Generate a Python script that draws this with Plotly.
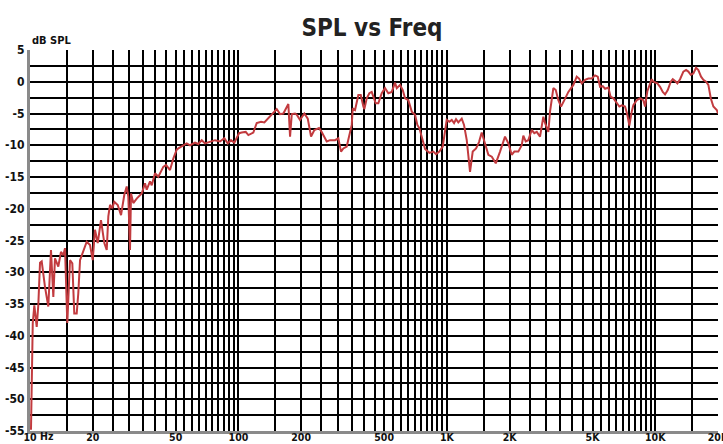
import plotly.graph_objects as go

# Frequency response data
freq_hz = [
    10.11, 10.19, 10.26, 10.31, 10.49, 10.77, 10.96, 11.17, 11.38, 11.80,
    12.24, 12.61, 12.94, 13.18, 13.67, 14.08, 14.45, 14.72, 15.10, 15.56,
    15.96, 16.31, 16.75, 17.05, 17.38, 18.02, 18.71, 19.41, 20.0, 20.50,
    21.13, 21.91, 22.73, 23.34, 23.76, 24.21, 24.83, 25.38, 26.36, 27.34,
    28.35, 29.11, 29.63, 30.19, 30.53, 31.31, 32.51, 34.36, 35.63, 36.31,
    37.66, 38.37, 39.79, 41.27, 43.61, 44.94, 46.97, 48.71, 50.58, 51.48,
    53.45, 56.49, 58.59, 61.92, 64.22, 66.68, 69.16, 73.09, 77.24, 81.62,
    85.58, 88.86, 92.15, 95.57, 98.14, 100.7, 103.7, 108.4, 111.6, 117.9,
    122.4, 128.4, 133.2, 138.3, 145.4, 152.7, 158.4, 164.3, 173.6, 176.9,
    180.3, 186.9, 190.5, 197.5, 207.2, 215.1, 223.1, 231.4, 243.7, 251.0,
    265.3, 275.2, 290.8, 301.6, 310.7, 318.7, 330.9, 343.2, 349.7, 353.6,
    362.7, 376.2, 386.3, 397.6, 402.0, 412.8, 424.8, 436.1, 443.9, 455.8,
    469.1, 487.1, 505.2, 524.0, 544.1, 564.3, 575.0, 596.4, 614.4, 630.3,
    653.7, 678.7, 703.9, 722.0, 738.2, 758.0, 786.2, 824.4, 861.6, 887.7,
    920.7, 955.7, 980.3, 998.9, 1028, 1056, 1083, 1107, 1135, 1179,
    1209, 1246, 1292, 1331, 1381, 1427, 1470, 1525, 1582, 1643,
    1717, 1800, 1902, 1973, 2048, 2108, 2203, 2287, 2328, 2390,
    2460, 2554, 2629, 2700, 2800, 2904, 2959, 3069, 3127, 3244,
    3331, 3428, 3532, 3663, 3829, 4046, 4200, 4308, 4439, 4604,
    4775, 4958, 5142, 5298, 5434, 5599, 5743, 5956, 6102, 6294,
    6535, 6725, 6906, 7162, 7346, 7510, 7712, 7849, 8149, 8452,
    8766, 8932, 9162, 9441, 9620, 9792, 10235, 10545, 10864, 11143,
    11481, 11868, 12134, 12447, 12767, 13152, 13640, 14053, 14416, 14803,
    15234, 15695, 16099, 16586, 17014, 17530, 17981, 18464, 19002, 19730,
    20000,
]
spl_db = [
    -54.8, -49.1, -43.5, -38.0, -35.2, -38.6, -35.2, -28.5, -28.3, -32.3,
    -35.4, -26.5, -33.9, -27.8, -29.1, -26.8, -27.3, -26.2, -38.0, -28.1,
    -28.6, -36.5, -36.5, -33.3, -28.1, -26.8, -25.2, -25.7, -28.1, -23.3,
    -25.4, -21.8, -25.4, -26.5, -21.2, -19.4, -19.9, -18.9, -19.4, -21.0,
    -17.8, -16.5, -18.1, -26.5, -17.6, -19.1, -18.4, -17.6, -16.0, -17.0,
    -15.7, -16.3, -14.4, -14.95, -13.4, -13.1, -13.9, -12.1, -10.7, -10.5,
    -10.2, -9.7, -10.0, -9.6, -9.8, -9.2, -9.7, -9.4, -9.2, -9.4,
    -8.9, -9.7, -9.2, -9.6, -8.9, -8.1, -8.0, -7.9, -8.4, -8.0,
    -6.5, -6.3, -6.4, -5.8, -5.0, -4.3, -5.1, -5.0, -3.5, -8.65,
    -5.1, -5.0, -5.2, -6.0, -5.0, -5.8, -8.65, -7.6, -7.3, -7.9,
    -9.4, -9.2, -9.2, -8.9, -11.0, -10.5, -10.2, -8.1, -6.8, -4.2,
    -4.45, -2.1, -2.1, -3.9, -4.3, -2.6, -1.8, -1.6, -2.35, -3.4,
    -3.4, -1.8, -1.0, -1.8, -1.6, -0.15, -1.0, -0.5, -1.3, -2.6,
    -2.9, -4.7, -5.2, -6.8, -7.3, -8.9, -10.6, -11.2, -11.0, -11.4,
    -11.0, -10.2, -7.9, -6.0, -6.3, -6.0, -6.5, -5.9, -6.4, -5.8,
    -6.8, -9.2, -14.2, -11.0, -10.5, -9.5, -8.0, -9.7, -11.5, -11.8,
    -12.85, -11.0, -8.65, -9.7, -11.5, -11.0, -11.0, -10.0, -8.5, -9.4,
    -9.2, -7.6, -8.1, -7.9, -8.65, -5.5, -6.5, -7.9, -4.7, -1.0,
    -1.3, -2.9, -3.9, -2.9, -1.6, -0.5, 0.8, 0.5, -0.25, 0.3,
    0.5, 0.5, 1.0, 0.8, -0.8, -0.7, -1.1, -0.9, -2.35, -2.6,
    -3.4, -3.9, -3.7, -3.9, -5.2, -6.9, -4.7, -3.7, -2.9, -2.6,
    -2.9, -3.9, -1.5, -0.5, 0.4, 0.0, -0.25, -0.8, -1.6, -2.0,
    -1.3, 0.0, 0.4, 0.1, -0.25, 0.4, 1.6, 1.85, 1.6, 1.1,
    1.3, 2.2, 1.85, 0.8, 0.3, 0.0, -0.5, -2.6, -3.9, -4.45,
    -5.0,
]

# Axis ticks / labels
x_major_labels = {10: "10", 20: "20", 50: "50", 100: "100", 200: "200",
                  500: "500", 1000: "1K", 2000: "2K", 5000: "5K",
                  10000: "10K", 20000: "20K"}
x_grid = [h * 10 ** (e - 1) for e in range(1, 4) for h in range(10, 100, 5)] + [10000, 15000, 20000]
x_text = [x_major_labels.get(v, "") for v in x_grid]

y_grid = [-55 + 2.5 * i for i in range(25)]
y_text = [("%g" % v) if v % 5 == 0 else "" for v in y_grid]

FONT = "Liberation Sans Narrow, DejaVu Sans Condensed, Arial Narrow, sans-serif"

fig = go.Figure()
fig.add_trace(go.Scatter(x=freq_hz, y=spl_db, mode="lines",
                         line=dict(color="#c23b3f", width=2),
                         hoverinfo="x+y", showlegend=False))

fig.update_layout(
    width=723, height=444,
    margin=dict(l=30, r=5, t=50, b=13),
    paper_bgcolor="white", plot_bgcolor="white",
    title=dict(text="SPL vs Freq", x=0.5145, xref="container", xanchor="center",
               y=1 - 28 / 444, yref="container", yanchor="middle",
               font=dict(family=FONT, size=24, color="#222222", weight="bold")),
    font=dict(family=FONT, size=12, color="#111111", weight="bold"),
)
fig.update_xaxes(type="log", range=[1, 4.30103], tickmode="array",
                 tickvals=x_grid, ticktext=x_text, showgrid=True,
                 gridcolor="#000000", gridwidth=1.6, ticks="",
                 showline=True, linecolor="#8a8a8a", linewidth=3,
                 zeroline=False, automargin=False, ticklabeloverflow="allow",
                 ticklabelstandoff=-6,
                 tickfont=dict(size=10.5, family=FONT, weight="bold"),
                 tickangle=0)
fig.update_yaxes(range=[-55, 5], tickmode="array", tickvals=y_grid, ticktext=y_text,
                 showgrid=True, gridcolor="#000000", gridwidth=1.6, ticks="",
                 showline=True, linecolor="#8a8a8a", linewidth=3, zeroline=False,
                 automargin=False, ticklabeloverflow="allow",
                 tickfont=dict(size=12, family=FONT, weight="bold"))

fig.add_annotation(text="dB SPL", xref="paper", yref="paper", x=0, y=1,
                   xanchor="left", yanchor="bottom", yshift=1, showarrow=False,
                   font=dict(family=FONT, size=11, color="#111111", weight="bold"))
fig.add_annotation(text="Hz", xref="paper", yref="paper", x=0, y=0,
                   xanchor="left", yanchor="top", xshift=8, yshift=3, showarrow=False,
                   font=dict(family=FONT, size=10.5, color="#111111", weight="bold"))

fig.write_html("out.html", config={"displayModeBar": False},
               post_script="document.body.style.margin='0px';document.body.style.overflow='hidden';")
